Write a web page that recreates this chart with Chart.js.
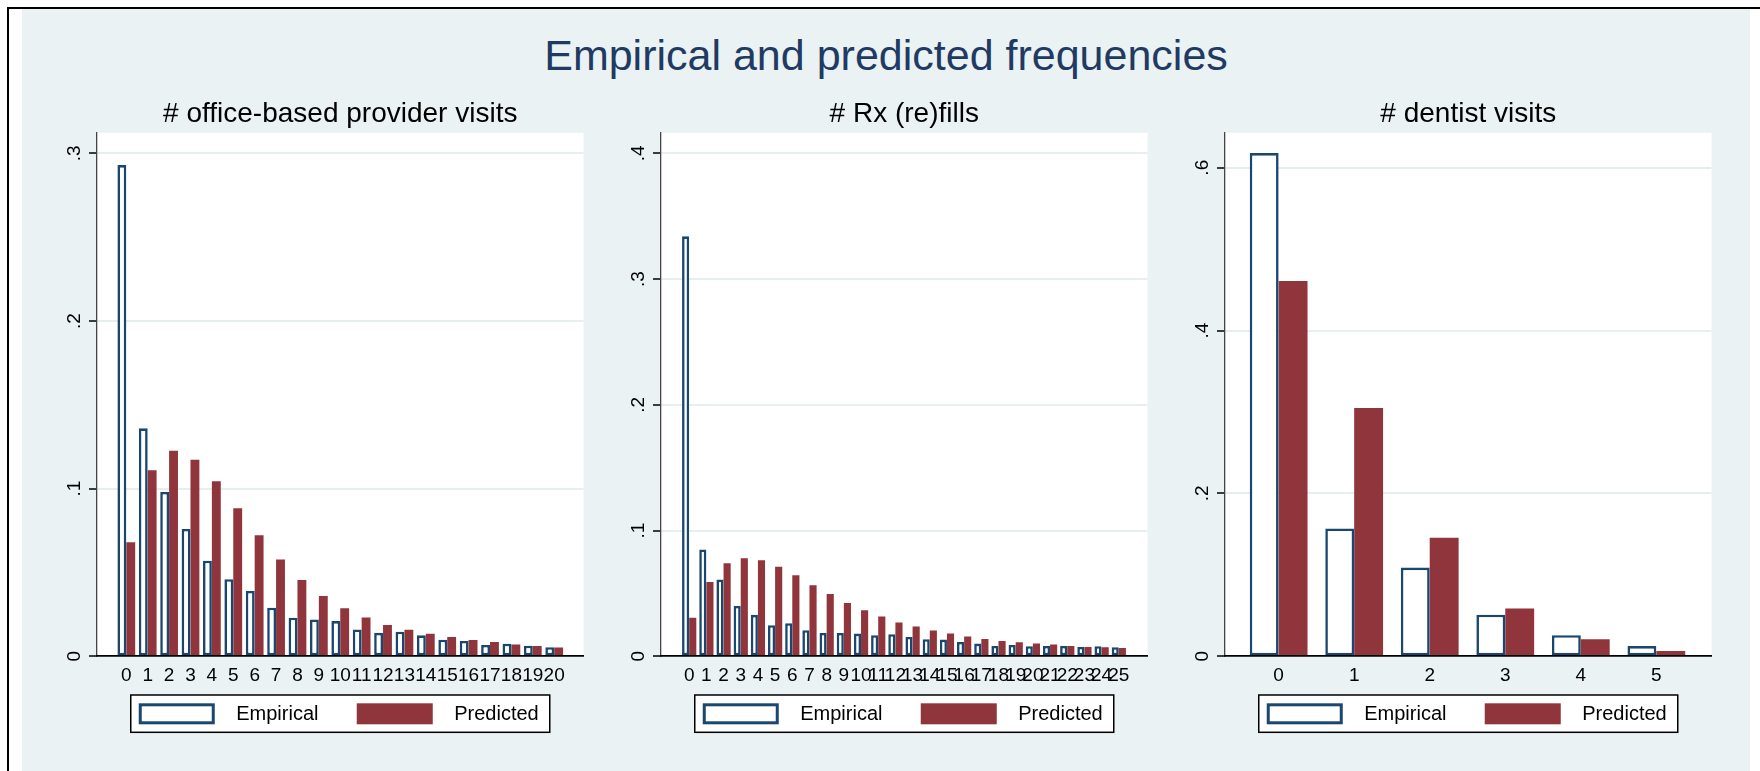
<!DOCTYPE html>
<html>
<head>
<meta charset="utf-8">
<title>Empirical and predicted frequencies</title>
<script src="https://cdn.jsdelivr.net/npm/chart.js@4.4.1/dist/chart.umd.min.js"></script>
<style>
  html, body { margin: 0; padding: 0; background: #fff; }
  body { width: 1760px; height: 771px; position: relative; overflow: hidden; font-family: "Liberation Sans", Arial, sans-serif; }
  #frame { position: absolute; left: 7px; top: 7px; right: 0; bottom: 0; border-left: 2px solid #000; border-top: 2px solid #000; }
  #bg { position: absolute; left: 22px; top: 9px; width: 1728px; height: 762px; background: #eaf2f3; }
  #title { position: absolute; left: 22px; width: 1728px; top: 34px; text-align: center; font-size: 43px; line-height: 43px; color: #213a63; }
  canvas { position: absolute; top: 90px; }
</style>
</head>
<body>
<div id="frame"></div>
<div id="bg"></div>
<div id="title">Empirical and predicted frequencies</div>
<canvas id="office" width="565" height="681" style="left:52px"></canvas>
<canvas id="rx" width="565" height="681" style="left:616px"></canvas>
<canvas id="dentist" width="565" height="681" style="left:1180px"></canvas>
<script>
// kategori (jumlah kunjungan / resep)
const officeCats = [0, 1, 2, 3, 4, 5, 6, 7, 8, 9, 10, 11, 12, 13, 14, 15, 16, 17, 18, 19, 20];
const rxCats = [0, 1, 2, 3, 4, 5, 6, 7, 8, 9, 10, 11, 12, 13, 14, 15, 16, 17, 18, 19, 20, 21, 22, 23, 24, 25];
const dentistCats = [0, 1, 2, 3, 4, 5];

// frekuensi empiris dan prediksi
const officeEmp = [0.293, 0.136, 0.098, 0.076, 0.057, 0.046, 0.039, 0.029, 0.023, 0.022, 0.021, 0.016, 0.014, 0.0147, 0.0125, 0.0099, 0.0092, 0.0068, 0.0075, 0.0063, 0.0054];
const officePred = [0.068, 0.111, 0.1226, 0.1173, 0.1044, 0.0883, 0.0722, 0.0577, 0.0455, 0.036, 0.0286, 0.0231, 0.0187, 0.0159, 0.0135, 0.0115, 0.0097, 0.0086, 0.007, 0.0062, 0.0052];

const rxEmp = [0.334, 0.085, 0.061, 0.040, 0.033, 0.0247, 0.0263, 0.0207, 0.0186, 0.0186, 0.0181, 0.0168, 0.0176, 0.0154, 0.0136, 0.0133, 0.0114, 0.0101, 0.0082, 0.009, 0.008, 0.0082, 0.0082, 0.0074, 0.008, 0.0072];
const rxPred = [0.0306, 0.059, 0.0739, 0.0779, 0.0763, 0.0713, 0.0644, 0.0566, 0.0495, 0.0423, 0.0367, 0.0316, 0.0269, 0.0237, 0.0205, 0.0181, 0.0157, 0.0138, 0.0122, 0.0112, 0.0101, 0.0093, 0.0082, 0.0074, 0.0072, 0.0066];

const dentistEmp = [0.618, 0.157, 0.109, 0.051, 0.026, 0.0125];
const dentistPred = [0.461, 0.305, 0.1457, 0.0587, 0.0208, 0.0065];

// label sumbu y
const officeTicks = [0, 0.1, 0.2, 0.3];
const officeTickLabels = ['0', '.1', '.2', '.3'];
const rxTicks = [0, 0.1, 0.2, 0.3, 0.4];
const rxTickLabels = ['0', '.1', '.2', '.3', '.4'];
const dentistTicks = [0, 0.2, 0.4, 0.6];
const dentistTickLabels = ['0', '.2', '.4', '.6'];

const FONT = '"Liberation Sans", Arial, sans-serif';
Chart.defaults.font.family = FONT;
Chart.defaults.color = '#000';

// latar putih untuk area plot
const plotBg = {
    id: 'plotBg',
    beforeDraw(chart) {
        const a = chart.chartArea;
        chart.ctx.save();
        chart.ctx.fillStyle = '#fff';
        chart.ctx.fillRect(a.left, a.top, a.right - a.left, a.bottom - a.top);
        chart.ctx.restore();
    }
};

// label sumbu y ditulis vertikal (gaya Stata)
const verticalYLabels = {
    id: 'verticalYLabels',
    afterDraw(chart, args, opts) {
        const s = chart.scales.y;
        const ctx = chart.ctx;
        ctx.save();
        ctx.fillStyle = '#000';
        ctx.font = '19px ' + FONT;
        ctx.textAlign = 'center';
        ctx.textBaseline = 'alphabetic';
        s.ticks.forEach((t, i) => {
            ctx.save();
            ctx.translate(chart.chartArea.left - 16.7, s.getPixelForValue(t.value));
            ctx.rotate(-Math.PI / 2);
            ctx.fillText(opts.labels[i], 0, 0);
            ctx.restore();
        });
        ctx.restore();
    }
};

// legenda berbingkai di bawah grafik
const boxedLegend = {
    id: 'boxedLegend',
    afterDraw(chart) {
        const { ctx, chartArea: a } = chart;
        const w = 419, h = 37.3;
        const left = (a.left + a.right) / 2 - w / 2;
        const top = a.bottom + 38.7;
        const slots = [8, 226];
        ctx.save();
        ctx.fillStyle = '#fff';
        ctx.fillRect(left, top, w, h);
        ctx.strokeStyle = '#000';
        ctx.lineWidth = 1.5;
        ctx.strokeRect(left, top, w, h);
        chart.data.datasets.forEach((ds, i) => {
            const sx = left + slots[i], sy = top + 8.3;
            ctx.fillStyle = ds.backgroundColor;
            ctx.fillRect(sx, sy, 76, 21);
            if (ds.borderWidth) {
                ctx.strokeStyle = ds.borderColor;
                ctx.lineWidth = 3;
                ctx.strokeRect(sx + 1.5, sy + 1.5, 73, 18);
            }
            ctx.fillStyle = '#000';
            ctx.font = '20px ' + FONT;
            ctx.textAlign = 'left';
            ctx.textBaseline = 'middle';
            ctx.fillText(ds.label, sx + 76 + 21.5, sy + 10.8);
        });
        ctx.restore();
    }
};

function makePanel(id, title, cats, emp, pred, xMin, xMax, yMax, yTicks, yLabels, catPct) {
    const data = {
        labels: cats,
        datasets: [{
            label: 'Empirical',
            data: emp,
            backgroundColor: '#ffffff',
            borderColor: '#1a476f',
            borderWidth: 2.6,
            borderSkipped: false,
            categoryPercentage: catPct,
            barPercentage: 1
        }, {
            label: 'Predicted',
            data: pred,
            backgroundColor: '#90353b',
            borderWidth: 0,
            categoryPercentage: catPct,
            barPercentage: 1
        }]
    };

    const config = {
        type: 'bar',
        data: data,
        options: {
            responsive: false,
            animation: false,
            layout: { padding: { top: 0, left: 0, right: 33.5, bottom: 80 } },
            scales: {
                x: {
                    type: 'linear',
                    min: xMin,
                    max: xMax,
                    offset: false,
                    grid: { display: false, drawTicks: false },
                    border: { display: true, color: '#000', width: 1.7, z: 1 },
                    afterBuildTicks: s => { s.ticks = cats.map(v => ({ value: v })); },
                    afterFit: s => { s.height = 34.7; s.paddingLeft = 0; s.paddingRight = 0; },
                    ticks: {
                        autoSkip: false,
                        maxRotation: 0,
                        minRotation: 0,
                        padding: 8.4,
                        color: '#000',
                        font: { size: 19 },
                        callback: v => String(v)
                    }
                },
                y: {
                    min: 0,
                    max: yMax,
                    afterBuildTicks: s => { s.ticks = yTicks.map(v => ({ value: v })); },
                    afterFit: s => { s.width = 45; s.paddingTop = 0; s.paddingBottom = 0; },
                    ticks: { display: false },
                    grid: {
                        color: c => (c.tick && c.tick.value === 0) ? 'rgba(0,0,0,0)' : '#e6eef0',
                        lineWidth: 2,
                        drawTicks: true,
                        tickLength: 8,
                        tickColor: '#000',
                        tickWidth: 1.5
                    },
                    border: { color: '#444', width: 1.3 }
                }
            },
            plugins: {
                legend: { display: false },
                tooltip: { enabled: false },
                title: {
                    display: true,
                    text: title,
                    fullSize: false,
                    color: '#000',
                    font: { size: 28, weight: 'normal' },
                    padding: { top: 7.5, bottom: 1.6 }
                },
                verticalYLabels: { labels: yLabels }
            }
        },
        plugins: [plotBg, verticalYLabels, boxedLegend]
    };

    new Chart(document.getElementById(id), config);
}

makePanel('office', '# office-based provider visits', officeCats, officeEmp, officePred,
    -1.37, 21.37, 0.3123, officeTicks, officeTickLabels, 0.83);
makePanel('rx', '# Rx (re)fills', rxCats, rxEmp, rxPred,
    -1.64, 26.67, 0.4164, rxTicks, rxTickLabels, 0.83);
makePanel('dentist', '# dentist visits', dentistCats, dentistEmp, dentistPred,
    -0.71, 5.73, 0.643, dentistTicks, dentistTickLabels, 0.765);
</script>
</body>
</html>
